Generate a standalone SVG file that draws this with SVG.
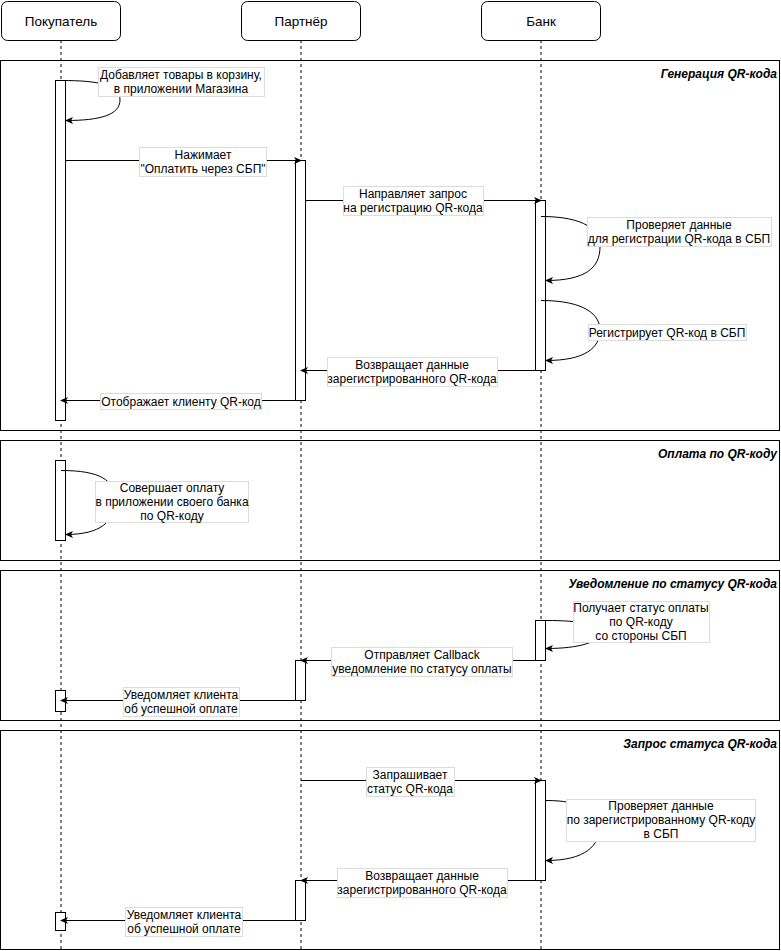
<svg xmlns="http://www.w3.org/2000/svg" width="781" height="951" viewBox="0 0 781 951">
<defs>
<style>
text{font-family:"Liberation Sans",Arial,sans-serif;font-size:12px;fill:#000}
.hdr{font-size:13.5px;text-anchor:middle}
.lbl{text-anchor:middle}
.ttl{font-weight:bold;font-style:italic;text-anchor:end}
.frame{fill:none;stroke:#000;stroke-width:1}
.life{stroke:#000;stroke-width:1;stroke-dasharray:3,3;fill:none}
.act{fill:#fff;stroke:#000;stroke-width:1}
.msg{fill:none;stroke:#000;stroke-width:1;marker-end:url(#arr)}
.lb{fill:#fff;stroke:#dcdcdc;stroke-width:1}
.box{fill:#fff;stroke:#000;stroke-width:1}
</style>
<marker id="arr" viewBox="0 0 8 8" refX="7" refY="4" markerWidth="8" markerHeight="8" markerUnits="userSpaceOnUse" orient="auto">
<path d="M0,0.5 L8,4 L0,7.5 L2,4 z" fill="#000"/>
</marker>
</defs>

<g id="frames">
<rect class="frame" x="0.5" y="60.5" width="779" height="370"/>
<text class="ttl" x="777" y="78">Генерация QR-кода</text>
<rect class="frame" x="0.5" y="440.5" width="779" height="120"/>
<text class="ttl" x="777" y="458">Оплата по QR-коду</text>
<rect class="frame" x="0.5" y="570.5" width="779" height="150"/>
<text class="ttl" x="777" y="588">Уведомление по статусу QR-кода</text>
<rect class="frame" x="0.5" y="730.5" width="779" height="219"/>
<text class="ttl" x="777" y="748">Запрос статуса QR-кода</text>
</g>

<g id="lifelines">
<line class="life" x1="61" y1="40" x2="61" y2="950"/>
<line class="life" x1="301" y1="40" x2="301" y2="950"/>
<line class="life" x1="541" y1="40" x2="541" y2="950"/>
</g>

<g id="node-buyer">
<rect class="box" x="1.5" y="1.5" width="119" height="39" rx="6"/>
<text class="hdr" x="61" y="26">Покупатель</text>
</g>
<g id="node-partner">
<rect class="box" x="241.5" y="1.5" width="119" height="39" rx="6"/>
<text class="hdr" x="301" y="26">Партнёр</text>
</g>
<g id="node-bank">
<rect class="box" x="481.5" y="1.5" width="119" height="39" rx="6"/>
<text class="hdr" x="541" y="26">Банк</text>
</g>

<g id="activations">
<rect class="act" x="55.5" y="80.5" width="10" height="340"/>
<rect class="act" x="295.5" y="160.5" width="10" height="240"/>
<rect class="act" x="535.5" y="200.5" width="10" height="170"/>
<rect class="act" x="55.5" y="460.5" width="10" height="80"/>
<rect class="act" x="535.5" y="620.5" width="10" height="40"/>
<rect class="act" x="295.5" y="660.5" width="10" height="40"/>
<rect class="act" x="55.5" y="690.5" width="10" height="21"/>
<rect class="act" x="535.5" y="780.5" width="10" height="100"/>
<rect class="act" x="295.5" y="880.5" width="10" height="40"/>
<rect class="act" x="55.5" y="912.5" width="10" height="18"/>
</g>

<g id="connectors">
<path class="msg" d="M 61 80.5 C 100 80.5 120 85 120 100 C 120 115 100 120.5 66 120.5"/>
<path class="msg" d="M 66 160.5 L 301 160.5"/>
<path class="msg" d="M 306 200.5 L 541 200.5"/>
<path class="msg" d="M 541 216.5 C 585 216.5 600 230 600 247 C 600 268 585 280.5 546 280.5"/>
<path class="msg" d="M 541 300.5 C 585 300.5 600 315 600 330 C 600 348 585 360.5 546 360.5"/>
<path class="msg" d="M 536 370.5 L 301 370.5"/>
<path class="msg" d="M 296 400.5 L 61 400.5"/>
<path class="msg" d="M 61 470.5 C 100 470.5 115 480 115 500 C 115 522 100 534.5 66 534.5"/>
<path class="msg" d="M 546 620.5 C 580 620.5 600 624 600 632 C 600 642 580 648.5 546 648.5"/>
<path class="msg" d="M 536 660.5 L 301 660.5"/>
<path class="msg" d="M 296 700.5 L 61 700.5"/>
<path class="msg" d="M 301 780.5 L 541 780.5"/>
<path class="msg" d="M 546 800.5 C 580 800.5 600 810 600 825 C 600 846 585 860.5 546 860.5"/>
<path class="msg" d="M 536 880.5 L 301 880.5"/>
<path class="msg" d="M 296 920.5 L 61 920.5"/>
</g>

<g id="labels">
<rect class="lb" x="98.5" y="67.5" width="166" height="29"/>
<text class="lbl" x="181" y="79">Добавляет товары в корзину,</text>
<text class="lbl" x="181" y="93">в приложении Магазина</text>

<rect class="lb" x="139.5" y="147.5" width="127" height="29"/>
<text class="lbl" x="203" y="159">Нажимает</text>
<text class="lbl" x="203" y="173">"Оплатить через СБП"</text>

<rect class="lb" x="343.5" y="186.5" width="140" height="29"/>
<text class="lbl" x="413" y="198">Направляет запрос</text>
<text class="lbl" x="413" y="212">на регистрацию QR-кода</text>

<rect class="lb" x="587.5" y="217.5" width="184" height="29"/>
<text class="lbl" x="679" y="229">Проверяет данные</text>
<text class="lbl" x="679" y="243">для регистрации QR-кода в СБП</text>

<rect class="lb" x="588.5" y="324.5" width="158" height="16"/>
<text class="lbl" x="667" y="337">Регистрирует QR-код в СБП</text>

<rect class="lb" x="327.5" y="357.5" width="170" height="29"/>
<text class="lbl" x="412" y="369">Возвращает данные</text>
<text class="lbl" x="412" y="383">зарегистрированного QR-кода</text>

<rect class="lb" x="100.5" y="393.5" width="161" height="16"/>
<text class="lbl" x="181" y="406">Отображает клиенту QR-код</text>

<rect class="lb" x="95.5" y="481.5" width="153" height="41"/>
<text class="lbl" x="172" y="492">Совершает оплату</text>
<text class="lbl" x="172" y="506">в приложении своего банка</text>
<text class="lbl" x="172" y="520">по QR-коду</text>

<rect class="lb" x="573.5" y="601.5" width="136" height="41"/>
<text class="lbl" x="641" y="612">Получает статус оплаты</text>
<text class="lbl" x="641" y="626">по QR-коду</text>
<text class="lbl" x="641" y="640">со стороны СБП</text>

<rect class="lb" x="331.5" y="647.5" width="181" height="29"/>
<text class="lbl" x="422" y="659">Отправляет Callback</text>
<text class="lbl" x="422" y="673">уведомление по статусу оплаты</text>

<rect class="lb" x="123.5" y="687.5" width="116" height="29"/>
<text class="lbl" x="181" y="699">Уведомляет клиента</text>
<text class="lbl" x="181" y="713">об успешной оплате</text>

<rect class="lb" x="366.5" y="767.5" width="88" height="29"/>
<text class="lbl" x="410" y="779">Запрашивает</text>
<text class="lbl" x="410" y="793">статус QR-кода</text>

<rect class="lb" x="566.5" y="799.5" width="189" height="42"/>
<text class="lbl" x="661" y="810">Проверяет данные</text>
<text class="lbl" x="661" y="824">по зарегистрированному QR-коду</text>
<text class="lbl" x="661" y="838">в СБП</text>

<rect class="lb" x="337.5" y="868.5" width="170" height="29"/>
<text class="lbl" x="422" y="880">Возвращает данные</text>
<text class="lbl" x="422" y="894">зарегистрированного QR-кода</text>

<rect class="lb" x="125.5" y="907.5" width="117" height="29"/>
<text class="lbl" x="184" y="919">Уведомляет клиента</text>
<text class="lbl" x="184" y="933">об успешной оплате</text>
</g>
</svg>
